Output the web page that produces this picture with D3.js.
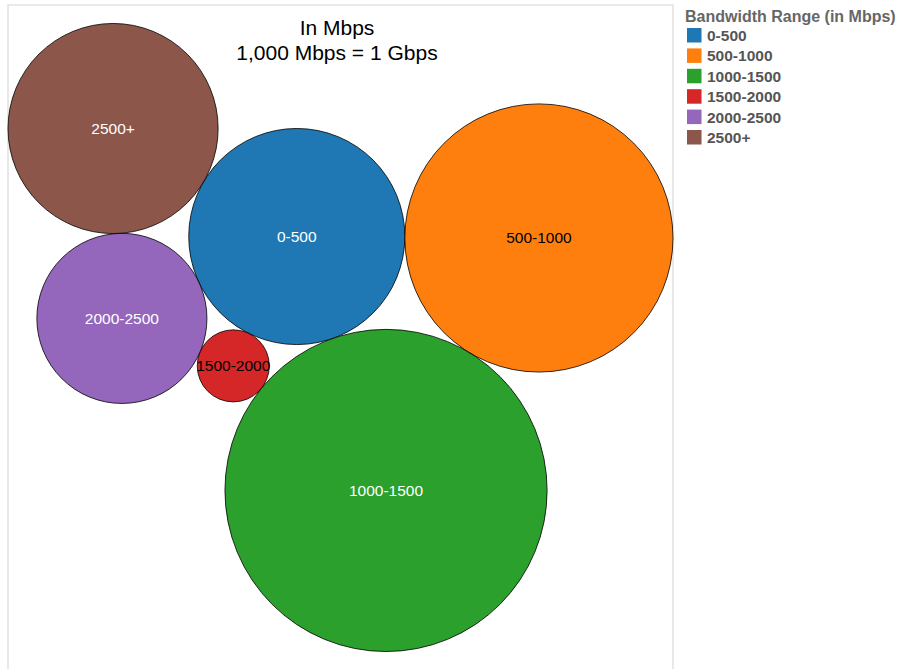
<!DOCTYPE html>
<html><head><meta charset="utf-8">
<script src="https://cdn.jsdelivr.net/npm/d3@7"></script>
<style>body{margin:0;background:#fff;}svg{display:block;font-family:"Liberation Sans",Arial,sans-serif;}</style>
</head><body>
<svg id="c" width="900" height="669"></svg>
<script>
// ---- data ----
const categories = ["0-500", "500-1000", "1000-1500", "1500-2000", "2000-2500", "2500+"];
const values = [11664, 17956, 25921, 1296, 7225, 11025];
const colors = ["#1f77b4", "#ff7f0e", "#2ca02c", "#d62728", "#9467bd", "#8c564b"];
const labelColors = ["#fff", "#000", "#fff", "#000", "#fff", "#fff"];
const titleLines = ["In Mbps", "1,000 Mbps = 1 Gbps"];
const legendTitle = "Bandwidth Range (in Mbps)";

const svg = d3.select("#c");
const plot = {x0: 8, x1: 673, y0: 5, y1: 669};

// radius in unit space
const rUnit = d3.scaleSqrt().domain([0, d3.max(values)]).range([0, 1]);
const nodes = categories.map((c, i) => ({cat: c, v: values[i], r: rUnit(values[i]), i}));
const byCat = c => nodes.find(n => n.cat === c);

// packing: place each bubble tangent to two earlier ones
function place(a, b, c, side) {
  const dx = b.x - a.x, dy = b.y - a.y, d = Math.hypot(dx, dy);
  const ux = dx / d, uy = dy / d;
  const da = a.r + c.r, db = b.r + c.r;
  const t = (da * da - db * db + d * d) / (2 * d);
  const h = Math.sqrt(Math.max(0, da * da - t * t));
  c.x = a.x + t * ux + side * h * (-uy);
  c.y = a.y + t * uy + side * h * ux;
}
const G = byCat("1000-1500"), O = byCat("500-1000"), B = byCat("0-500"),
      R = byCat("1500-2000"), P = byCat("2000-2500"), W = byCat("2500+");
G.x = 0; G.y = 0;
const ang = Math.atan2(-251, 152);
O.x = (G.r + O.r) * Math.cos(ang); O.y = (G.r + O.r) * Math.sin(ang);
place(G, O, B, -1);
place(G, B, R, -1);
place(B, R, P, 1);
place(B, P, W, 1);

// fit into plot area
const minX = d3.min(nodes, n => n.x - n.r), maxX = d3.max(nodes, n => n.x + n.r);
const minY = d3.min(nodes, n => n.y - n.r), maxY = d3.max(nodes, n => n.y + n.r);
const k = Math.min((plot.x1 - plot.x0) / (maxX - minX), (plot.y1 - plot.y0) / (maxY - minY));
const cx = (plot.x0 + plot.x1) / 2, cy = (plot.y0 + plot.y1) / 2 + 0.5;
const mx = (minX + maxX) / 2, my = (minY + maxY) / 2;
const xS = d3.scaleLinear().domain([mx - 1, mx + 1]).range([cx - k, cx + k]);
const yS = d3.scaleLinear().domain([my - 1, my + 1]).range([cy - k, cy + k]);

// frame
svg.append("path")
  .attr("d", `M${plot.x0},${plot.y1 + 5}V${plot.y0}H${plot.x1}V${plot.y1 + 5}`)
  .attr("fill", "none").attr("stroke", "#e3e3e3").attr("stroke-width", 1.6);

const g = svg.append("g");
g.selectAll("circle").data(nodes).join("circle")
  .attr("cx", d => xS(d.x)).attr("cy", d => yS(d.y)).attr("r", d => d.r * k)
  .attr("fill", d => colors[d.i]).attr("stroke", "#000").attr("stroke-width", 0.8);
g.selectAll("text").data(nodes).join("text")
  .attr("x", d => xS(d.x)).attr("y", d => yS(d.y)).attr("dy", "0.35em")
  .attr("text-anchor", "middle").attr("font-size", 15.5)
  .attr("fill", d => labelColors[d.i]).text(d => d.cat);

// title
svg.selectAll("text.title").data(titleLines).join("text").attr("class", "title")
  .attr("x", 337).attr("y", (d, i) => 35 + i * 25)
  .attr("text-anchor", "middle").attr("font-size", 21).attr("fill", "#000").text(d => d);

// legend
const lg = svg.append("g").attr("transform", "translate(685,0)");
lg.append("text").attr("x", 0).attr("y", 22).attr("font-size", 16).attr("font-weight", "bold")
  .attr("fill", "#666").text(legendTitle);
const rows = lg.selectAll("g.row").data(categories).join("g").attr("class", "row")
  .attr("transform", (d, i) => `translate(0,${28 + i * 20.4})`);
rows.append("rect").attr("x", 2).attr("y", 0).attr("width", 14.5).attr("height", 14.5)
  .attr("fill", (d, i) => colors[i]);
rows.append("text").attr("x", 22).attr("y", 13).attr("font-size", 15.5).attr("font-weight", "bold")
  .attr("fill", "#555").text(d => d);
</script>
</body></html>
